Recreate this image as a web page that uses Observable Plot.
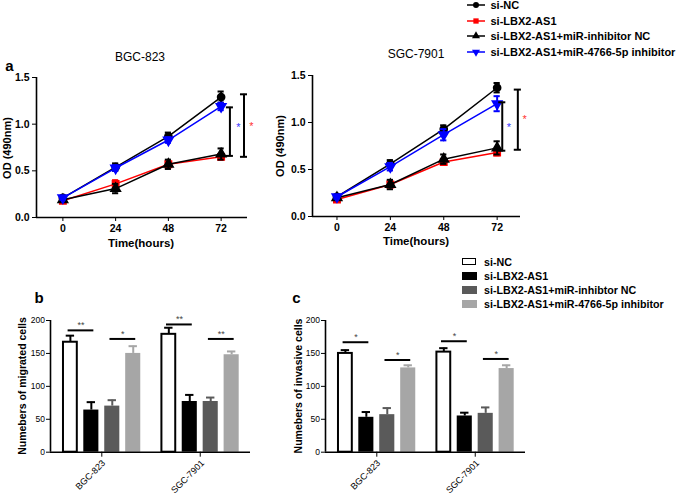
<!DOCTYPE html>
<html><head><meta charset="utf-8">
<script src="https://cdn.jsdelivr.net/npm/d3@7"></script>
<script src="https://cdn.jsdelivr.net/npm/@observablehq/plot@0.6"></script>
<style>
body{margin:0;background:#fff;}
#fig{position:relative;width:685px;height:497px;overflow:hidden;font-family:"Liberation Sans",Arial,sans-serif;color:#000;}
#fig svg{overflow:visible;background:transparent;}
.bars [aria-label="y-axis tick label"], .bars g[aria-label="y-axis"] text{font-size:8.5px;}
</style></head>
<body><div id="fig"></div>
<script>
// ---------- panel a data ----------
const times = [0, 24, 48, 72];
const seriesNames = ["si-NC", "si-LBX2-AS1", "si-LBX2-AS1+miR-inhibitor NC", "si-LBX2-AS1+miR-4766-5p inhibitor"];
const seriesColors = ["#000000", "#ff0000", "#000000", "#0000ff"];
const bgcOD  = [[0.21,0.54,0.87,1.29],[0.18,0.36,0.57,0.65],[0.19,0.31,0.57,0.68],[0.21,0.53,0.83,1.19]];
const bgcErr = [[0.02,0.04,0.04,0.06],[0.02,0.04,0.03,0.03],[0.02,0.05,0.05,0.06],[0.02,0.03,0.03,0.04]];
const sgcOD  = [[0.21,0.56,0.93,1.37],[0.18,0.34,0.58,0.68],[0.20,0.34,0.61,0.73],[0.21,0.53,0.87,1.20]];
const sgcErr = [[0.02,0.04,0.04,0.05],[0.02,0.03,0.03,0.03],[0.02,0.05,0.05,0.07],[0.02,0.04,0.06,0.08]];
const starColors = ["#3333ff", "#ff3333"];
const bgcBracketX = [76, 82.4], bgcBracketLo = [0.66, 0.65], bgcBracketHi = [1.18, 1.32];
const bgcStarX = [79.8, 85.8], bgcStarY = [0.96, 0.98];
const sgcBracketX = [74.3, 81.3], sgcBracketLo = [0.70, 0.71], sgcBracketHi = [1.215, 1.35];
const sgcStarX = [77.3, 84.4], sgcStarY = [0.95, 1.03];

// ---------- panels b, c data ----------
const cellLines = ["BGC-823", "SGC-7901"];
const barGroups = ["si-NC", "si-LBX2-AS1", "si-LBX2-AS1+miR-inhibtor NC", "si-LBX2-AS1+miR-4766-5p inhibitor"];
const barFills = ["#ffffff", "#000000", "#5a5a5a", "#a6a6a6"];
const barWhisker = ["#000000", "#000000", "#5a5a5a", "#a6a6a6"];
const migrated    = [[167, 64, 70, 150], [179, 77, 77, 148]];
const migratedErr = [[10, 12, 9, 11], [10, 10, 6, 5]];
const migratedSigY = [[185, 172], [194, 172]];
const migratedSigText = [["**", "*"], ["**", "**"]];
const invasive    = [[150, 53, 57, 128], [152, 55, 59, 127]];
const invasiveErr = [[5, 8, 10, 4], [6, 5, 9, 5]];
const invasiveSigY = [[167, 140], [168.5, 141.6]];
const invasiveSigText = [["*", "*"], ["*", "*"]];
const yTicksBars = [0, 50, 100, 150, 200];

const fig = document.getElementById("fig");
function put(node, left, top) {
  node.style.position = "absolute"; node.style.left = left + "px"; node.style.top = top + "px";
  fig.appendChild(node); return node;
}
function label(text, cx, cy, css, rot) {
  const d = document.createElement("div");
  d.textContent = text;
  d.style.cssText = `position:absolute;left:${cx}px;top:${cy}px;white-space:nowrap;line-height:1;transform:translate(-50%,-50%)${rot ? ` rotate(${rot}deg)` : ""};${css || ""}`;
  fig.appendChild(d);
  return d;
}

const triDown = {draw(ctx, size) {
  const y = Math.sqrt(size / (Math.sqrt(3) * 3));
  ctx.moveTo(0, 2 * y); ctx.lineTo(-Math.sqrt(3) * y, -y); ctx.lineTo(Math.sqrt(3) * y, -y); ctx.closePath();
}};
const seriesSymbols = [d3.symbolCircle, d3.symbolSquare, d3.symbolTriangle, triDown];

function odChart(o) {
  const rows = [];
  o.od.forEach((vals, i) => vals.forEach((v, j) => rows.push({s: i, t: times[j], v, e: o.err[i][j], color: seriesColors[i]})));
  const br = o.bx.map((x, i) => ({x, lo: o.blo[i], hi: o.bhi[i], sx: o.sx[i], sy: o.sy[i], color: starColors[i]}));
  const marks = [];
  for (const i of [1, 2, 0, 3]) {
    const d = rows.filter(r => r.s === i);
    marks.push(
      Plot.line(d, {x: "t", y: "v", stroke: "color", strokeWidth: 1.5}),
      Plot.ruleX(d, {x: "t", y1: r => r.v - r.e, y2: r => r.v + r.e, stroke: "color", strokeWidth: 2}),
      Plot.ruleY(d, {y: r => r.v + r.e, x1: r => r.t - 1.4, x2: r => r.t + 1.4, stroke: "color", strokeWidth: 2}),
      Plot.ruleY(d, {y: r => r.v - r.e, x1: r => r.t - 1.4, x2: r => r.t + 1.4, stroke: "color", strokeWidth: 2}),
      Plot.dot(d, {x: "t", y: "v", symbol: seriesSymbols[i], r: 3.6, fill: "color", stroke: "color"})
    );
  }
  marks.push(
    Plot.ruleX(br, {x: "x", y1: "lo", y2: "hi", strokeWidth: 2}),
    Plot.ruleY(br, {y: "lo", x1: r => r.x - 1.6, x2: r => r.x + 1.6, strokeWidth: 2}),
    Plot.ruleY(br, {y: "hi", x1: r => r.x - 1.6, x2: r => r.x + 1.6, strokeWidth: 2}),
    Plot.text(br, {x: "sx", y: "sy", text: () => "*", fill: "color", fontSize: 11, fontWeight: "normal"}),
    Plot.ruleY([0], {strokeWidth: 1.6}),
    Plot.ruleX([o.xDomain[0]], {strokeWidth: 1.6})
  );
  return Plot.plot({
    width: o.width, height: o.height,
    marginLeft: o.ml, marginRight: o.mr, marginTop: o.mt, marginBottom: o.mb,
    style: {fontFamily: "Liberation Sans, Arial, sans-serif", fontWeight: "bold", fontSize: "10.5px", background: "transparent", color: "#000", overflow: "visible"},
    x: {domain: o.xDomain, ticks: times, tickFormat: d => String(d), tickSize: 4, tickPadding: 3, label: null},
    y: {domain: [0, 1.5], ticks: [0, 0.5, 1, 1.5], tickFormat: d3.format(".1f"), tickSize: 4, tickPadding: 3, label: null},
    marks
  });
}

const groupGap = 4.7;
const tickPos = cellLines.map((c, ci) => ci * groupGap + 1.5);
function barChart(o, left, top) {
  const rows = [];
  cellLines.forEach((c, ci) => barGroups.forEach((g, k) => rows.push({
    ci, k, pos: ci * groupGap + k, v: o.vals[ci][k], e: o.err[ci][k], fill: barFills[k], wh: barWhisker[k]
  })));
  const sig = [];
  cellLines.forEach((c, ci) => [0, 2].forEach((k, si) => sig.push({
    x1: ci * groupGap + k - 0.11, x2: ci * groupGap + k + 1.12, y: o.sigY[ci][si], text: o.sigText[ci][si]
  })));
  const svg = Plot.plot({
    width: 262, height: 197, marginLeft: 50, marginRight: 12, marginTop: 20, marginBottom: 45.3,
    style: {fontFamily: "Liberation Sans, Arial, sans-serif", fontSize: "10px", background: "transparent", color: "#000", overflow: "visible"},
    x: {domain: [-0.95, 8.6], ticks: tickPos, tickFormat: () => "", tickSize: 5, label: null},
    y: {domain: [0, 200], ticks: yTicksBars, tickSize: 4, tickPadding: 1.5, label: null},
    marks: [
      Plot.rect(rows.filter(r => r.k > 0), {x1: r => r.pos - 0.36, x2: r => r.pos + 0.36, y1: () => 0, y2: "v", fill: "fill"}),
      Plot.rect(rows.filter(r => r.k === 0), {x1: r => r.pos - 0.33, x2: r => r.pos + 0.33, y1: () => 0, y2: "v", fill: "fill", stroke: "#000", strokeWidth: 2}),
      Plot.ruleX(rows, {x: "pos", y1: "v", y2: r => r.v + r.e, stroke: "wh", strokeWidth: 2}),
      Plot.ruleY(rows, {y: r => r.v + r.e, x1: r => r.pos - 0.2, x2: r => r.pos + 0.2, stroke: "wh", strokeWidth: 2}),
      Plot.ruleY(sig, {y: "y", x1: "x1", x2: "x2", strokeWidth: 2}),
      Plot.text(sig, {x: r => (r.x1 + r.x2) / 2, y: "y", text: "text", dy: -5, fill: "#444", fontSize: 9}),
      Plot.ruleY([0], {strokeWidth: 1.6}),
      Plot.ruleX([-0.95], {strokeWidth: 1.6})
    ]
  });
  svg.classList.add("bars");
  put(svg, left, top);
  // rotated category labels positioned through the plot's own scales
  const xs = svg.scale("x"), ys = svg.scale("y");
  cellLines.forEach((c, i) => {
    const d = document.createElement("div");
    d.textContent = c;
    const ax = left + xs.apply(tickPos[i]) + 3, ay = top + ys.apply(0) + 10;
    d.style.cssText = `position:absolute;left:${ax}px;top:${ay}px;white-space:nowrap;line-height:1;font-size:9px;transform-origin:100% 50%;transform:translate(-100%,-50%) rotate(-45deg);`;
    fig.appendChild(d);
  });
  return svg;
}

// ---- panel a ----
put(odChart({od: bgcOD, err: bgcErr, bx: bgcBracketX, blo: bgcBracketLo, bhi: bgcBracketHi, sx: bgcStarX, sy: bgcStarY,
  xDomain: [-12, 84], width: 262, height: 250, ml: 36, mr: 15, mt: 77, mb: 33}), 0, 0);
put(odChart({od: sgcOD, err: sgcErr, bx: sgcBracketX, blo: sgcBracketLo, bhi: sgcBracketHi, sx: sgcStarX, sy: sgcStarY,
  xDomain: [-11, 82.5], width: 270, height: 250, ml: 50, mr: 12, mt: 75, mb: 34}), 262, 0);

// ---- panels b, c ----
barChart({vals: migrated, err: migratedErr, sigY: migratedSigY, sigText: migratedSigText}, 0, 300);
barChart({vals: invasive, err: invasiveErr, sigY: invasiveSigY, sigText: invasiveSigText}, 275, 300);

// ---- text ----
const B = "font-weight:bold;";
label("a", 9.5, 65, B + "font-size:15px;");
label("b", 39, 297, B + "font-size:15px;");
label("c", 296.5, 297, B + "font-size:15px;");
label("BGC-823", 140, 57, "font-size:12px;");
label("SGC-7901", 416, 54, "font-size:12px;");
label("Time(hours)", 141, 244, B + "font-size:11.5px;");
label("Time(hours)", 416, 242, B + "font-size:11.5px;");
label("OD (490nm)", 7, 148, B + "font-size:11px;", -90);
label("OD (490nm)", 280, 146, B + "font-size:11px;", -90);
label("Numebers of migrated cells", 22, 386, B + "font-size:10.5px;", -90);
label("Numebers of invasive cells", 298, 386, B + "font-size:10.5px;", -90);

// top legend (line + symbol)
const legY = [5, 20.7, 35.7, 51.7];
seriesNames.forEach((s, i) => {
  const ns = "http://www.w3.org/2000/svg";
  const sv = document.createElementNS(ns, "svg");
  sv.setAttribute("width", 20); sv.setAttribute("height", 10);
  const ln = document.createElementNS(ns, "line");
  ln.setAttribute("x1", 1); ln.setAttribute("x2", 19); ln.setAttribute("y1", 5); ln.setAttribute("y2", 5);
  ln.setAttribute("stroke", seriesColors[i]); ln.setAttribute("stroke-width", 1.5);
  sv.appendChild(ln);
  const p = document.createElementNS(ns, "path");
  p.setAttribute("d", d3.symbol(seriesSymbols[i], 28)());
  p.setAttribute("transform", "translate(10,5)");
  p.setAttribute("fill", seriesColors[i]);
  sv.appendChild(p);
  put(sv, 466, legY[i] - 5);
  const t = label(s, 0, legY[i], B + "font-size:11px;");
  t.style.left = "490.5px"; t.style.transform = "translate(0,-50%)";
});

// bar legend
const barLegY = [261.7, 275.7, 290, 304];
barGroups.forEach((g, i) => {
  const sw = document.createElement("div");
  sw.style.cssText = `width:${i === 0 ? 12 : 15}px;height:${i === 0 ? 5 : 8}px;background:${barFills[i]};${i === 0 ? "border:1.5px solid #000;" : ""}`;
  put(sw, 461.7, barLegY[i] - 4);
  const t = label(g, 0, barLegY[i], B + "font-size:10.7px;");
  t.style.left = "484px"; t.style.transform = "translate(0,-50%)";
});
</script>
</body></html>
